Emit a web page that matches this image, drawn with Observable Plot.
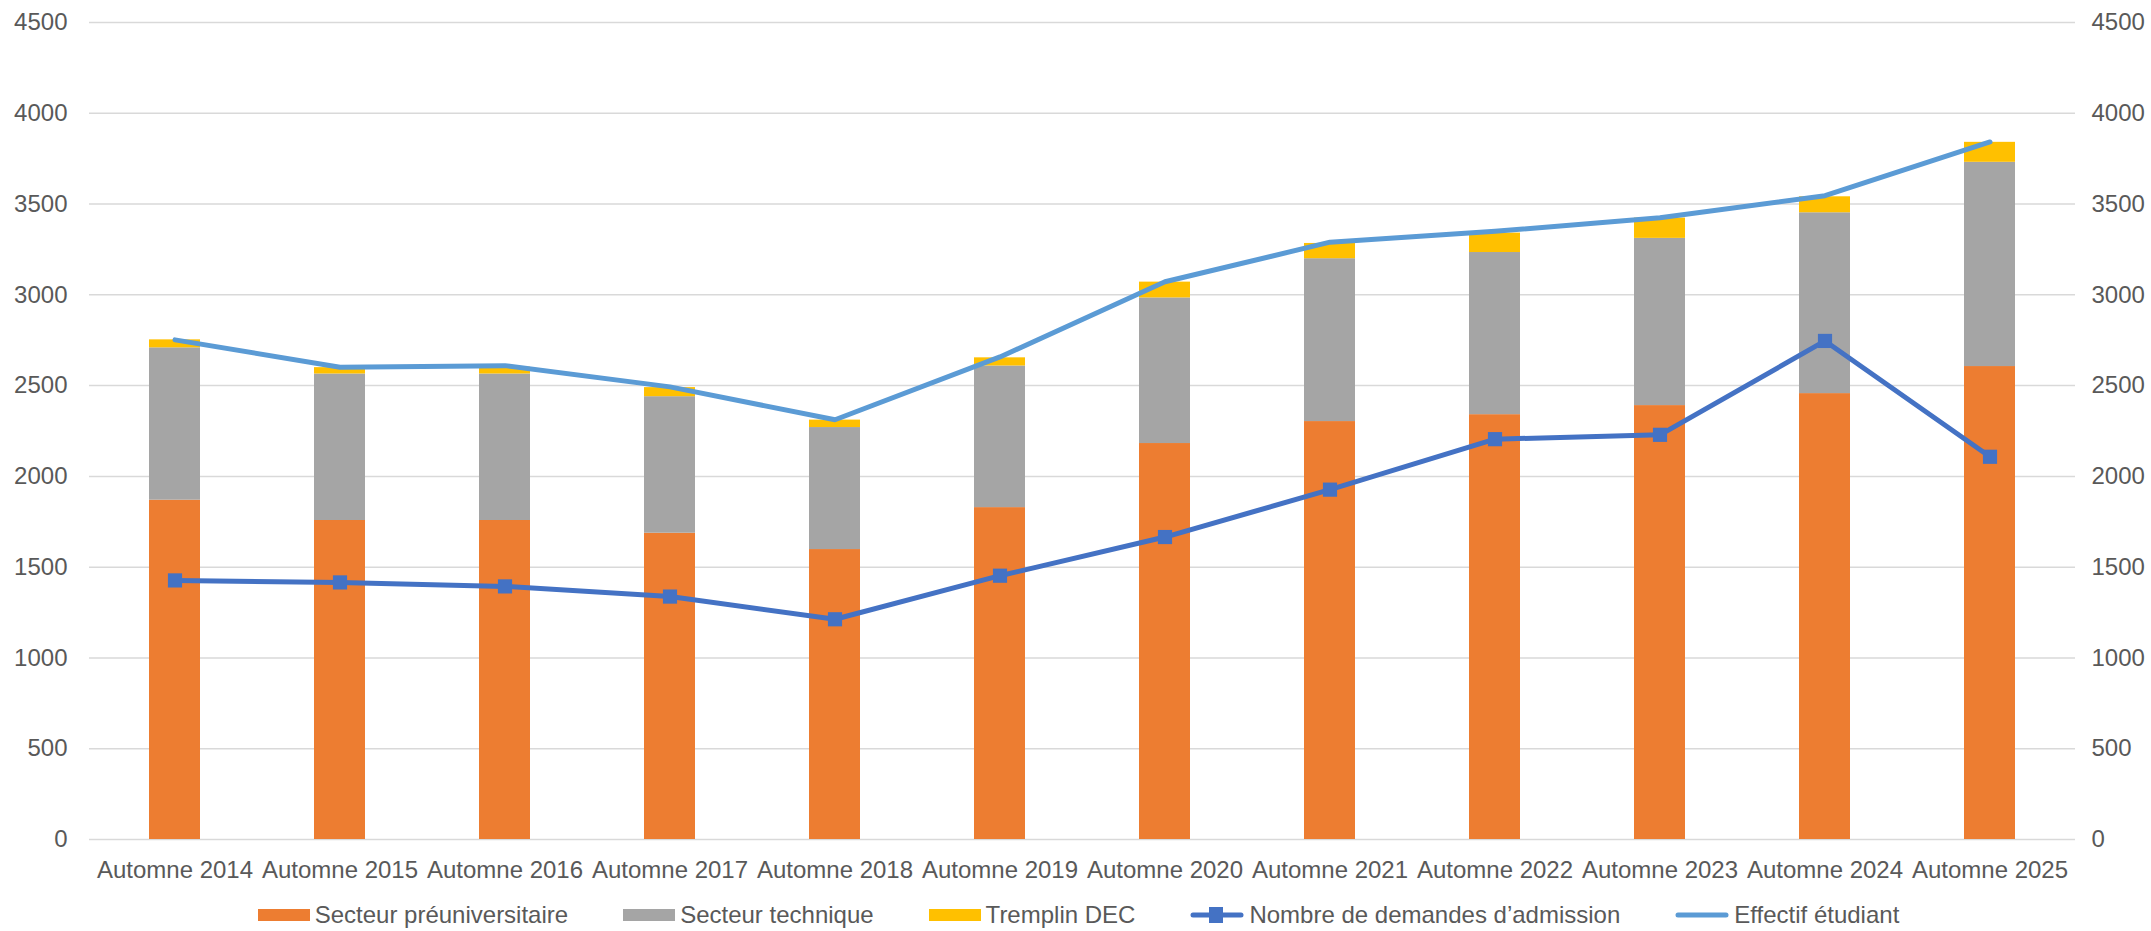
<!DOCTYPE html>
<html>
<head>
<meta charset="utf-8">
<script src="https://cdn.jsdelivr.net/npm/d3@7"></script>
<script src="https://cdn.jsdelivr.net/npm/@observablehq/plot@0.6"></script>
<style>
  body { margin: 0; background: #fff; font-family: "Liberation Sans", Arial, sans-serif; }
  #legend { width: 2151px; height: 32px; display: flex; justify-content: center; align-items: center; gap: 55px; font-size: 24px; color: #595959; padding-left: 6px; box-sizing: border-box; }
  .item { display: flex; align-items: center; gap: 5px; white-space: nowrap; }
  .sw { width: 52px; height: 12px; }
</style>
</head>
<body>
<div id="chart"></div>
<div id="legend"></div>
<script>
// ---- Data ----
const years = ["Automne 2014","Automne 2015","Automne 2016","Automne 2017","Automne 2018","Automne 2019","Automne 2020","Automne 2021","Automne 2022","Automne 2023","Automne 2024","Automne 2025"];
const seriesNames = ["Secteur préuniversitaire","Secteur technique","Tremplin DEC"];
const preuniversitaire = [1869,1757,1757,1687,1597,1828,2181,2302,2340,2390,2456,2605];
const technique        = [839, 807, 807, 752, 672, 780, 802, 897, 893, 921, 996, 1125];
const tremplin         = [44,  35,  38,  50,  41,  45,  87,  84,  107, 112, 88,  110];
const demandes         = [1427,1416,1394,1338,1213,1453,1666,1927,2205,2229,2746,2108];
const effectif         = [2752,2601,2610,2493,2312,2658,3072,3290,3350,3425,3546,3842];
const yTicks = [0,500,1000,1500,2000,2500,3000,3500,4000,4500];
const lineNames = ["Nombre de demandes d’admission","Effectif étudiant"];

const barColors = ["#ED7D31","#A5A5A5","#FFC000"];
const demandesColor = "#4472C4";
const effectifColor = "#5B9BD5";

// ---- Tables ----
const barSeries = [preuniversitaire, technique, tremplin];
const barTable = [];
seriesNames.forEach((s, si) => years.forEach((y, i) => barTable.push({year: y, series: s, value: barSeries[si][i]})));
const demTable = years.map((y, i) => ({year: y, value: demandes[i]}));
const effTable = years.map((y, i) => ({year: y, value: effectif[i]}));

const chart = Plot.plot({
  width: 2151,
  height: 899,
  marginLeft: 89,
  marginRight: 76,
  marginTop: 22,
  marginBottom: 60,
  style: { fontFamily: "Liberation Sans, Arial, sans-serif", fontSize: "24px", color: "#595959", background: "#fff", overflow: "visible" },
  x: { domain: years, type: "band", paddingInner: 0.688, paddingOuter: 0.344, label: null },
  y: { domain: [0, 4500], label: null },
  color: { domain: seriesNames, range: barColors },
  marks: [
    Plot.ruleY(yTicks, { stroke: "#d9d9d9", strokeWidth: 1.5 }),
    Plot.barY(barTable, { x: "year", y: "value", fill: "series", order: seriesNames }),
    Plot.axisY({ anchor: "left", ticks: yTicks, tickFormat: d => String(d), tickSize: 0, tickPadding: 22, label: null }),
    Plot.axisY({ anchor: "right", ticks: yTicks, tickFormat: d => String(d), tickSize: 0, tickPadding: 16, label: null }),
    Plot.axisX({ anchor: "bottom", tickSize: 0, tickPadding: 21, label: null }),
    Plot.line(effTable, { x: "year", y: "value", stroke: effectifColor, strokeWidth: 5, strokeLinejoin: "round", strokeLinecap: "round" }),
    Plot.line(demTable, { x: "year", y: "value", stroke: demandesColor, strokeWidth: 5, strokeLinejoin: "round" }),
    Plot.dot(demTable, { x: "year", y: "value", symbol: "square", r: 8, fill: demandesColor, stroke: "none" })
  ]
});
document.getElementById("chart").appendChild(chart);

// ---- Legend ----
const legend = document.getElementById("legend");
seriesNames.forEach((s, i) => {
  const it = document.createElement("div");
  it.className = "item";
  it.innerHTML = `<div class="sw" style="background:${barColors[i]}"></div><span>${s}</span>`;
  legend.appendChild(it);
});
const lineItems = [
  { name: lineNames[0], color: demandesColor, marker: true },
  { name: lineNames[1], color: effectifColor, marker: false }
];
lineItems.forEach(l => {
  const it = document.createElement("div");
  it.className = "item";
  const marker = l.marker ? `<rect x="19" y="0" width="14" height="16" fill="${l.color}"/>` : "";
  it.innerHTML = `<svg width="54" height="16"><line x1="3" y1="8" x2="51" y2="8" stroke="${l.color}" stroke-width="5" stroke-linecap="round"/>${marker}</svg><span>${l.name}</span>`;
  legend.appendChild(it);
});
</script>
</body>
</html>
